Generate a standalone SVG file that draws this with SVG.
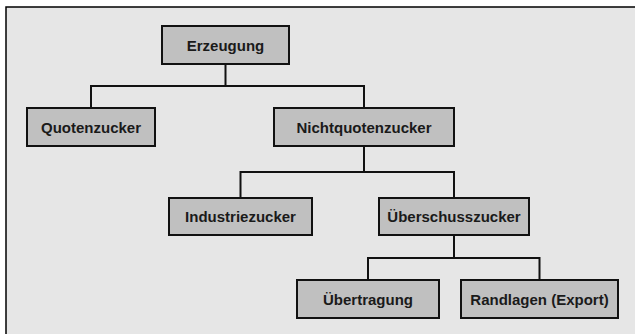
<svg xmlns="http://www.w3.org/2000/svg" width="635" height="334" viewBox="0 0 635 334">
<style>
.box{fill:#c0c0c0;stroke:#111;stroke-width:2}
.lbl{font-family:"Liberation Sans",Arial,sans-serif;font-weight:bold;font-size:15px;fill:#1a1a1a;text-anchor:middle;dominant-baseline:central}
.con{fill:none;stroke:#111;stroke-width:2}
</style>
<rect x="0" y="0" width="635" height="334" fill="#fff"/>
<rect x="6" y="7" width="629" height="327" fill="#e6e6e6"/>
<path d="M6 334 V7 H635" fill="none" stroke="#000" stroke-width="1.5"/>
<g id="connectors">
<path class="con" d="M225.5 64 V86 M91 108 V86 H364 V108"/>
<path class="con" d="M364 146 V172 M240.5 198 V172 H454 V198"/>
<path class="con" d="M454 235 V258 M368 280 V258 H539.5 V280"/>
</g>
<g id="erzeugung"><rect class="box" x="162" y="26" width="127" height="38"/><text class="lbl" x="225.5" y="45">Erzeugung</text></g>
<g id="quotenzucker"><rect class="box" x="27" y="108" width="128" height="38"/><text class="lbl" x="91" y="127">Quotenzucker</text></g>
<g id="nichtquotenzucker"><rect class="box" x="274" y="108" width="180" height="38"/><text class="lbl" x="364" y="127">Nichtquotenzucker</text></g>
<g id="industriezucker"><rect class="box" x="169" y="198" width="143" height="37"/><text class="lbl" x="240.5" y="216.5">Industriezucker</text></g>
<g id="ueberschusszucker"><rect class="box" x="379" y="198" width="150" height="37"/><text class="lbl" x="454" y="216.5">Überschusszucker</text></g>
<g id="uebertragung"><rect class="box" x="297" y="280" width="142" height="38"/><text class="lbl" x="368" y="299">Übertragung</text></g>
<g id="randlagen"><rect class="box" x="461" y="280" width="157" height="38"/><text class="lbl" x="539.5" y="299">Randlagen (Export)</text></g>
</svg>
